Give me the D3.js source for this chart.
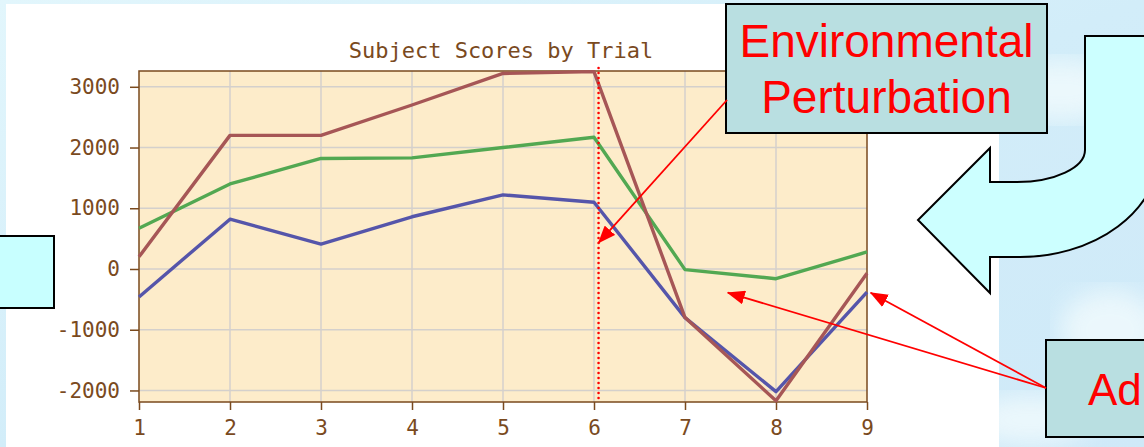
<!DOCTYPE html>
<html>
<head>
<meta charset="utf-8">
<script src="https://cdn.jsdelivr.net/npm/d3@7"></script>
<style>
    html, body { margin: 0; padding: 0; background: #d4eef9; }
    svg { display: block; }
    .axis path, .axis line { stroke: #7a4a1e; }
    .axis text { fill: #7a4a1e; font-family: "DejaVu Sans Mono", monospace; font-size: 21px; }
</style>
</head>
<body>
<div id="slide"></div>
<script>
// chart data
const trials = [1, 2, 3, 4, 5, 6, 7, 8, 9];
const redScores   = [200, 2200, 2200, 2700, 3220, 3250, -800, -2170, -70];
const greenScores = [670, 1400, 1820, 1830, 2000, 2170, -10, -160, 280];
const blueScores  = [-460, 820, 410, 860, 1220, 1100, -800, -2020, -380];
const yTicks = [-2000, -1000, 0, 1000, 2000, 3000];
const chartTitle = "Subject Scores by Trial";

const width = 1144;
const height = 447;
const margin = {top: 71, right: 277, bottom: 45, left: 139};

const svg = d3.select("#slide")
    .append("svg")
    .attr("width", width)
    .attr("height", height);

const defs = svg.append("defs");

// sky-ish slide background
const sky = defs.append("linearGradient")
    .attr("id", "sky")
    .attr("x1", 0).attr("y1", 0).attr("x2", 1).attr("y2", 1);
sky.append("stop").attr("offset", 0).attr("stop-color", "#e2f6fc");
sky.append("stop").attr("offset", 0.5).attr("stop-color", "#d2edf9");
sky.append("stop").attr("offset", 1).attr("stop-color", "#cfe9f8");

const blur = defs.append("filter").attr("id", "blur");
blur.append("feGaussianBlur").attr("stdDeviation", 12);

defs.append("marker")
    .attr("id", "redHead")
    .attr("markerUnits", "userSpaceOnUse")
    .attr("markerWidth", 18)
    .attr("markerHeight", 14)
    .attr("refX", 17)
    .attr("refY", 7)
    .attr("orient", "auto")
    .append("path")
    .attr("d", "M0,0 L18,7 L0,14 Z")
    .attr("fill", "#ff0000");

svg.append("rect")
    .attr("width", width)
    .attr("height", height)
    .attr("fill", "url(#sky)");

// a few soft clouds on the right
const clouds = [[1060, 90, 60, 30], [1110, 330, 50, 40], [1030, 420, 60, 25]];
svg.selectAll(".cloud")
    .data(clouds)
    .enter()
    .append("ellipse")
    .attr("class", "cloud")
    .attr("cx", d => d[0]).attr("cy", d => d[1])
    .attr("rx", d => d[2]).attr("ry", d => d[3])
    .attr("fill", "#f2fbfd")
    .attr("opacity", 0.8)
    .attr("filter", "url(#blur)");

// white picture panel
svg.append("rect")
    .attr("x", 6).attr("y", 4)
    .attr("width", 993).attr("height", height - 4)
    .attr("fill", "#ffffff");

// left box, mostly off the slide
svg.append("rect")
    .attr("x", -20).attr("y", 236)
    .attr("width", 74).attr("height", 72)
    .attr("fill", "#c8ffff")
    .attr("stroke", "#000")
    .attr("stroke-width", 2);

const xScale = d3.scaleLinear()
    .domain([1, 9])
    .range([margin.left, width - margin.right]);

const yScale = d3.scaleLinear()
    .domain([-2190, 3260])
    .range([height - margin.bottom, margin.top]);

const plotW = xScale.range()[1] - xScale.range()[0];
const plotH = yScale.range()[0] - yScale.range()[1];

svg.append("rect")
    .attr("x", margin.left).attr("y", margin.top)
    .attr("width", plotW).attr("height", plotH)
    .attr("fill", "#fdecca");

// grid
svg.append("g")
    .selectAll("line")
    .data(trials.slice(1, -1))
    .enter()
    .append("line")
    .attr("x1", d => xScale(d)).attr("x2", d => xScale(d))
    .attr("y1", margin.top).attr("y2", margin.top + plotH)
    .attr("stroke", "#d4d0cc")
    .attr("stroke-width", 1.5);

svg.append("g")
    .selectAll("line")
    .data(yTicks)
    .enter()
    .append("line")
    .attr("x1", margin.left).attr("x2", margin.left + plotW)
    .attr("y1", d => yScale(d)).attr("y2", d => yScale(d))
    .attr("stroke", "#d4d0cc")
    .attr("stroke-width", 1.5);

// frame
svg.append("rect")
    .attr("x", margin.left).attr("y", margin.top)
    .attr("width", plotW).attr("height", plotH)
    .attr("fill", "none")
    .attr("stroke", "#7a4a1e")
    .attr("stroke-width", 1.5);

svg.append("g")
    .attr("class", "axis")
    .attr("transform", `translate(0,${margin.top + plotH})`)
    .call(d3.axisBottom(xScale).tickValues(trials).tickSize(8).tickPadding(10).tickFormat(d => String(d)))
    .call(g => g.selectAll("line, path").attr("stroke-width", 1.5));

svg.append("g")
    .attr("class", "axis")
    .attr("transform", `translate(${margin.left},0)`)
    .call(d3.axisLeft(yScale).tickValues(yTicks).tickSize(9).tickPadding(10).tickFormat(d => String(d)))
    .call(g => g.selectAll("line, path").attr("stroke-width", 1.5));

svg.selectAll(".axis .domain").remove();

svg.append("text")
    .attr("x", 501)
    .attr("y", 58)
    .attr("text-anchor", "middle")
    .attr("font-family", "'DejaVu Sans Mono', monospace")
    .attr("font-size", 22)
    .attr("fill", "#7a4a1e")
    .text(chartTitle);

// series lines
const series = [
    {values: greenScores, color: "#52a852"},
    {values: blueScores, color: "#5555aa"},
    {values: redScores, color: "#a65656"}
];

const line = d3.line()
    .x((d, i) => xScale(trials[i]))
    .y(d => yScale(d));

svg.selectAll(".series")
    .data(series)
    .enter()
    .append("path")
    .attr("class", "series")
    .attr("d", d => line(d.values))
    .attr("fill", "none")
    .attr("stroke", d => d.color)
    .attr("stroke-width", 3.4)
    .attr("stroke-linejoin", "round");

// perturbation marker (round dots)
const perturbX = 6.05;
svg.append("line")
    .attr("x1", xScale(perturbX)).attr("x2", xScale(perturbX))
    .attr("y1", margin.top - 3).attr("y2", margin.top + plotH)
    .attr("stroke", "#ff0000")
    .attr("stroke-width", 2.6)
    .attr("stroke-linecap", "round")
    .attr("stroke-dasharray", "0,5");

// callout: Environmental Perturbation
svg.append("rect")
    .attr("x", 726).attr("y", 4)
    .attr("width", 321).attr("height", 129)
    .attr("fill", "#b9dfe1")
    .attr("stroke", "#000")
    .attr("stroke-width", 2);

const calloutFont = "'Liberation Sans', Arial, sans-serif";
svg.append("text")
    .attr("x", 886.5).attr("y", 57)
    .attr("text-anchor", "middle")
    .attr("font-family", calloutFont)
    .attr("font-size", 46)
    .attr("fill", "#ff0000")
    .text("Environmental");
svg.append("text")
    .attr("x", 886.5).attr("y", 113)
    .attr("text-anchor", "middle")
    .attr("font-family", calloutFont)
    .attr("font-size", 46)
    .attr("fill", "#ff0000")
    .text("Perturbation");

svg.append("line")
    .attr("x1", 727).attr("y1", 100)
    .attr("x2", xScale(perturbX)).attr("y2", yScale(430))
    .attr("stroke", "#ff0000")
    .attr("stroke-width", 1.8)
    .attr("marker-end", "url(#redHead)");

// curved U-turn arrow
svg.append("path")
    .attr("d", "M1085,36 L1160,36 L1160,150 A140,107 0 0 1 1017,257 L990,257 L990,293 L918,220 L990,148 L990,182 L1017,182 A68,32 0 0 0 1085,150 Z")
    .attr("fill", "#ccffff")
    .attr("stroke", "#000")
    .attr("stroke-width", 2)
    .attr("stroke-linejoin", "miter");

// callout box on the right edge; only its first letters are visible
svg.append("rect")
    .attr("x", 1046).attr("y", 340)
    .attr("width", 140).attr("height", 97)
    .attr("fill", "#b9dfe1")
    .attr("stroke", "#000")
    .attr("stroke-width", 2);

svg.append("text")
    .attr("x", 1088).attr("y", 405)
    .attr("font-family", calloutFont)
    .attr("font-size", 44)
    .attr("fill", "#ff0000")
    .text("Ad");

const adaptTips = [[7.47, -390], [9.04, -390]];
svg.selectAll(".adapt-arrow")
    .data(adaptTips)
    .enter()
    .append("line")
    .attr("class", "adapt-arrow")
    .attr("x1", 1046).attr("y1", 388)
    .attr("x2", d => xScale(d[0])).attr("y2", d => yScale(d[1]))
    .attr("stroke", "#ff0000")
    .attr("stroke-width", 1.8)
    .attr("marker-end", "url(#redHead)");
</script>
</body>
</html>
